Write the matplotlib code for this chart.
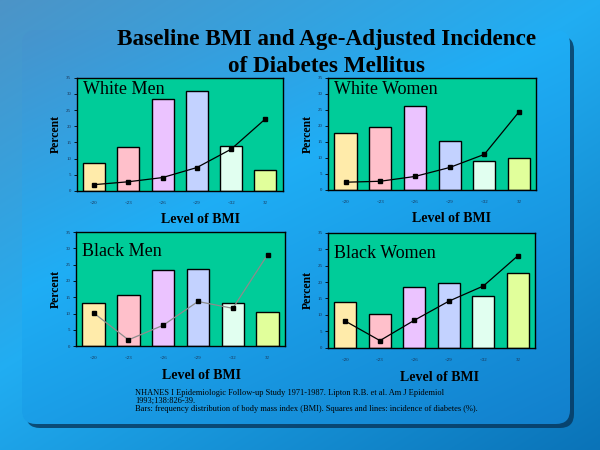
import numpy as np
import matplotlib
matplotlib.use("Agg")
import matplotlib.pyplot as plt
from matplotlib.patches import FancyBboxPatch

# --------------------------------------------
# Data
# --------------------------------------------

bmi_levels = ["<20", "<23", "<26", "<29", "<32", "32"]

panel_names = ["White Men", "White Women", "Black Men", "Black Women"]

# bars: frequency distribution of BMI (%)
white_men_freq = [8.5, 13.5, 28.6, 30.8, 13.8, 6.4]
white_women_freq = [17.7, 19.8, 26.1, 15.4, 9.0, 10.1]
black_men_freq = [13.1, 15.6, 23.3, 23.6, 13.1, 10.6]
black_women_freq = [13.8, 10.3, 18.6, 19.6, 15.9, 22.7]

# squares and lines: incidence of diabetes (%)
white_men_inc = [1.9, 2.8, 4.1, 7.2, 12.9, 22.3]
white_women_inc = [2.4, 2.7, 4.2, 7.0, 11.1, 24.4]
black_men_inc = [10.2, 1.9, 6.4, 13.7, 11.6, 28.1]
black_women_inc = [8.1, 2.2, 8.4, 14.2, 18.8, 28.0]

freqs = [white_men_freq, white_women_freq, black_men_freq, black_women_freq]
incs = [white_men_inc, white_women_inc, black_men_inc, black_women_inc]

bar_colors = ["#FFEBAA", "#FFC0CB", "#EBC3FF", "#C3D2FF", "#E1FFF0", "#E1FF9B"]
line_colors = ["black", "black", "#8c8c8c", "black"]

# axes rectangles in figure fractions
rects = [
    [0.128, 0.576, 0.343, 0.251],
    [0.547, 0.578, 0.347, 0.249],
    [0.127, 0.231, 0.348, 0.253],
    [0.547, 0.227, 0.345, 0.256],
]
xlabel_x = [0.60, 0.59, 0.60, 0.54]
name_y = [0.9, 0.9, 0.83, 0.82]

SERIF = ["Liberation Serif", "DejaVu Serif"]

fig = plt.figure(figsize=(6, 4.5), dpi=100)

# --------------------------------------------
# Background: blue gradient slide + panel
# --------------------------------------------

bg = fig.add_axes([0, 0, 1, 1])
bg.set_xlim(0, 600)
bg.set_ylim(450, 0)
bg.axis("off")

yy, xx = np.mgrid[0:450, 0:600]
t = np.clip(0.55 * yy / 450 + 0.45 * xx / 600, 0, 1)
top = np.array([0.30, 0.58, 0.78])
mid = np.array([0.13, 0.68, 0.95])
low = np.array([0.04, 0.45, 0.72])
w = np.where(t < 0.45, t / 0.45, (t - 0.45) / 0.55)[..., None]
img = np.where((t < 0.45)[..., None],
               top * (1 - w) + mid * w,
               mid * (1 - w) + low * w)
bg.imshow(img, extent=[0, 600, 450, 0], aspect="auto", zorder=0)

shadow = FancyBboxPatch((26, 36), 548, 392,
                        boxstyle="round,pad=0,rounding_size=14",
                        fc="#06365c", ec="none", alpha=0.8, zorder=1)
bg.add_patch(shadow)

yy2, xx2 = np.mgrid[0:400, 0:550]
t2 = np.clip(0.6 * yy2 / 400 + 0.4 * xx2 / 550, 0, 1)
w2 = np.where(t2 < 0.4, t2 / 0.4, (t2 - 0.4) / 0.6)[..., None]
img2 = np.where((t2 < 0.4)[..., None],
                np.array([0.28, 0.58, 0.80]) * (1 - w2) + np.array([0.12, 0.68, 0.96]) * w2,
                np.array([0.12, 0.68, 0.96]) * (1 - w2) + np.array([0.07, 0.50, 0.80]) * w2)
panel = FancyBboxPatch((22, 30), 548, 394,
                       boxstyle="round,pad=0,rounding_size=14",
                       fc="none", ec="none", zorder=2)
bg.add_patch(panel)
im2 = bg.imshow(img2, extent=[22, 570, 424, 30], aspect="auto", zorder=2)
im2.set_clip_path(panel)

# --------------------------------------------
# Title
# --------------------------------------------

fig.text(0.545, 0.9, "Baseline BMI and Age-Adjusted Incidence",
         ha="center", va="baseline", fontsize=16.7, fontweight="bold",
         family=SERIF)
fig.text(0.545, 0.84, "of Diabetes Mellitus",
         ha="center", va="baseline", fontsize=16.7, fontweight="bold",
         family=SERIF)

# --------------------------------------------
# Four panels
# --------------------------------------------

x = np.arange(len(bmi_levels))

for i in range(4):
    ax = fig.add_axes(rects[i])
    ax.set_facecolor("#00CC99")

    ax.bar(x, freqs[i], width=0.64, color=bar_colors,
           edgecolor="black", linewidth=1.0, zorder=2)
    ax.plot(x, incs[i], color=line_colors[i], linewidth=0.9,
            marker="s", markersize=3, markerfacecolor="black",
            markeredgecolor="black", zorder=3)

    ax.set_xlim(-0.5, 5.5)
    ax.set_ylim(0, 35)
    ax.set_yticks(range(0, 36, 5))
    ax.set_xticks(x)
    ax.set_xticklabels(bmi_levels)

    ax.tick_params(axis="y", labelsize=3.5, length=2, width=0.6, pad=2)
    ax.tick_params(axis="x", labelsize=3.5, length=0, pad=7)
    for lab in ax.get_xticklabels() + ax.get_yticklabels():
        lab.set_family(SERIF)
        lab.set_color("#1a3050")

    for sp in ax.spines.values():
        sp.set_color("black")
        sp.set_linewidth(1.0)

    ax.set_ylabel("Percent", fontsize=8.5, fontweight="bold",
                  family=SERIF, labelpad=3)
    ax.set_xlabel("Level of BMI", fontsize=10, fontweight="bold",
                  family=SERIF, labelpad=1)
    ax.xaxis.set_label_coords(xlabel_x[i], -0.2)

    ax.text(0.03, name_y[i], panel_names[i], transform=ax.transAxes,
            fontsize=13, family=SERIF, ha="left", va="center")

# --------------------------------------------
# Footnote
# --------------------------------------------

foot = ("NHANES I Epidemiologic Follow-up Study 1971-1987. Lipton R.B. et al. Am J Epidemiol\n"
        "1993;138:826-39.\n"
        "Bars: frequency distribution of body mass index (BMI). Squares and lines: incidence of diabetes (%).")
fig.text(0.225, 0.082, foot, ha="left", va="bottom", fontsize=6.0,
         family=SERIF, linespacing=1.0)

plt.savefig("out.png", dpi=100)
